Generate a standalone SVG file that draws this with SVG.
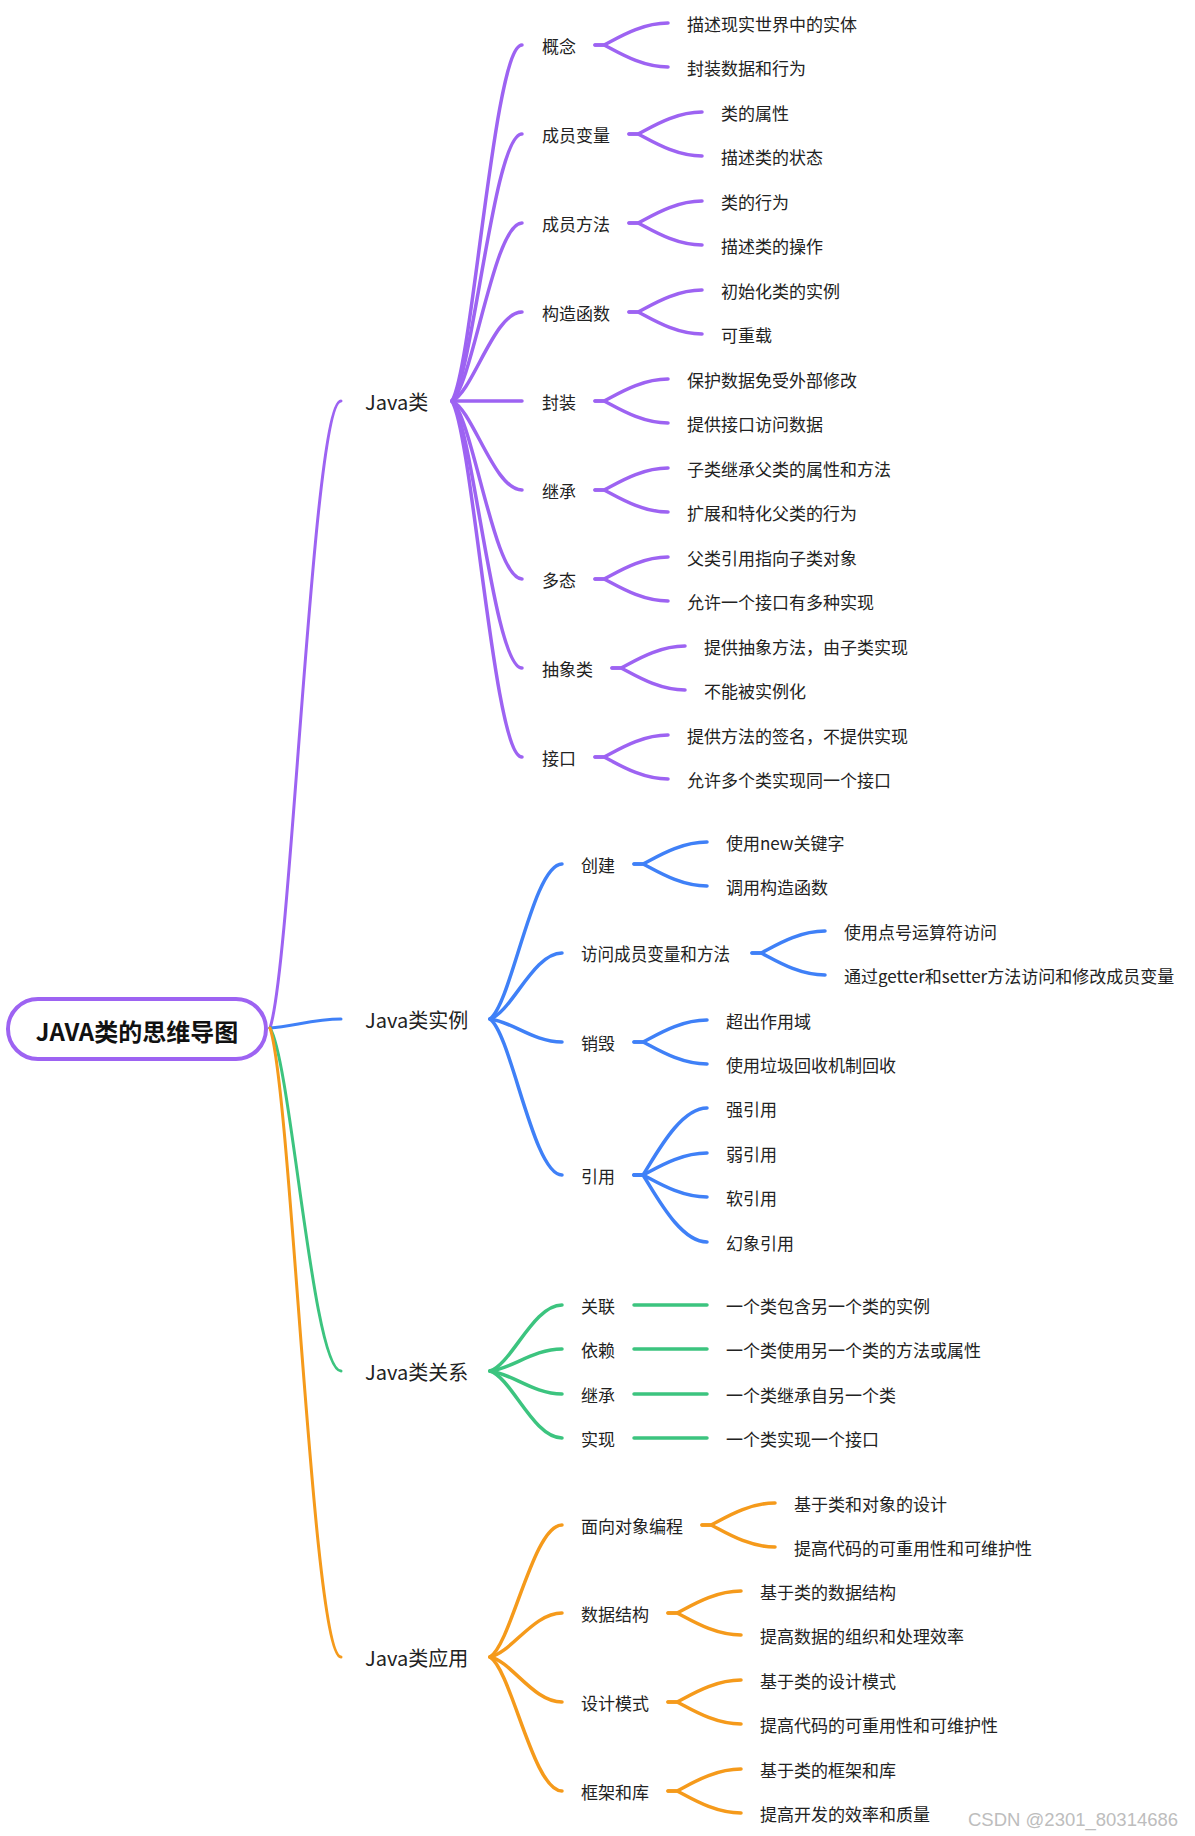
<svg xmlns="http://www.w3.org/2000/svg" width="1195" height="1836" viewBox="0 0 1195 1836">
<style>
text{font-family:"Noto Sans CJK SC","Noto Sans",sans-serif;fill:#222;dominant-baseline:central}
.t1{font-size:20px}
.t2{font-size:17px}
.t3{font-size:17px}
.root{font-size:24px;font-weight:bold;fill:#111;text-anchor:middle}
.c{fill:none;stroke-width:3.5;stroke-linecap:round;stroke-linejoin:round}
.r{stroke-width:3}
.p{stroke:#9D63F2}
.b{stroke:#3F80F7}
.g{stroke:#3CC47F}
.o{stroke:#F59A1B}
.wm{font-family:"Liberation Sans",Arial,sans-serif;font-size:18.5px;fill:#bdbdbd}
</style>
<rect width="1195" height="1836" fill="#fff"/>
<g id="connectors">
<g id="root-links">
<path class="c r p" d="M270,1028 C291.3,965.3 312.6,401 341,401"/>
<path class="c r b" d="M270,1028 C291.3,1027.1 312.6,1019 341,1019"/>
<path class="c r g" d="M270,1028 C291.3,1062.3 312.6,1371 341,1371"/>
<path class="c r o" d="M270,1028 C291.3,1090.9 312.6,1657 341,1657"/>
</g>
<g id="purple-links">
<path class="c p" d="M452,401 C473,365.4 494,45 522,45"/>
<path class="c p" d="M452,401 C473,374.3 494,134 522,134"/>
<path class="c p" d="M452,401 C473,383.2 494,223 522,223"/>
<path class="c p" d="M452,401 C473,392.1 494,312 522,312"/>
<path class="c p" d="M452,401 L522,401"/>
<path class="c p" d="M452,401 C473,409.9 494,490 522,490"/>
<path class="c p" d="M452,401 C473,418.8 494,579 522,579"/>
<path class="c p" d="M452,401 C473,427.7 494,668 522,668"/>
<path class="c p" d="M452,401 C473,436.6 494,757 522,757"/>
<path class="c p" d="M595,45 L604,45 C617,38.4 641,23 668,23"/>
<path class="c p" d="M595,45 L604,45 C617,51.6 641,67 668,67"/>
<path class="c p" d="M629,134 L638,134 C651,127.4 675,112 702,112"/>
<path class="c p" d="M629,134 L638,134 C651,140.6 675,156 702,156"/>
<path class="c p" d="M629,223 L638,223 C651,216.4 675,201 702,201"/>
<path class="c p" d="M629,223 L638,223 C651,229.6 675,245 702,245"/>
<path class="c p" d="M629,312 L638,312 C651,305.4 675,290 702,290"/>
<path class="c p" d="M629,312 L638,312 C651,318.6 675,334 702,334"/>
<path class="c p" d="M595,401 L604,401 C617,394.4 641,379 668,379"/>
<path class="c p" d="M595,401 L604,401 C617,407.6 641,423 668,423"/>
<path class="c p" d="M595,490 L604,490 C617,483.4 641,468 668,468"/>
<path class="c p" d="M595,490 L604,490 C617,496.6 641,512 668,512"/>
<path class="c p" d="M595,579 L604,579 C617,572.4 641,557 668,557"/>
<path class="c p" d="M595,579 L604,579 C617,585.6 641,601 668,601"/>
<path class="c p" d="M612,668 L621,668 C634,661.4 658,646 685,646"/>
<path class="c p" d="M612,668 L621,668 C634,674.6 658,690 685,690"/>
<path class="c p" d="M595,757 L604,757 C617,750.4 641,735 668,735"/>
<path class="c p" d="M595,757 L604,757 C617,763.6 641,779 668,779"/>
</g>
<g id="blue-links">
<path class="c b" d="M490,1019 C511.6,1003.5 533.2,864 562,864"/>
<path class="c b" d="M490,1019 C511.6,1012.4 533.2,953 562,953"/>
<path class="c b" d="M490,1019 C511.6,1021.3 533.2,1042 562,1042"/>
<path class="c b" d="M490,1019 C511.6,1034.6 533.2,1175 562,1175"/>
<path class="c b" d="M634,864 L643,864 C656,857.4 680,842 707,842"/>
<path class="c b" d="M634,864 L643,864 C656,870.6 680,886 707,886"/>
<path class="c b" d="M752,953 L761,953 C774,946.4 798,931 825,931"/>
<path class="c b" d="M752,953 L761,953 C774,959.6 798,975 825,975"/>
<path class="c b" d="M634,1042 L643,1042 C656,1035.4 680,1020 707,1020"/>
<path class="c b" d="M634,1042 L643,1042 C656,1048.6 680,1064 707,1064"/>
<path class="c b" d="M634,1175 L643,1175 C656,1154.9 680,1108 707,1108"/>
<path class="c b" d="M634,1175 L643,1175 C656,1168.4 680,1153 707,1153"/>
<path class="c b" d="M634,1175 L643,1175 C656,1181.6 680,1197 707,1197"/>
<path class="c b" d="M634,1175 L643,1175 C656,1195.1 680,1242 707,1242"/>
</g>
<g id="green-links">
<path class="c g" d="M490,1371 C511.6,1364.4 533.2,1305 562,1305"/>
<path class="c g" d="M490,1371 C511.6,1368.8 533.2,1349 562,1349"/>
<path class="c g" d="M490,1371 C511.6,1373.3 533.2,1394 562,1394"/>
<path class="c g" d="M490,1371 C511.6,1377.7 533.2,1438 562,1438"/>
<path class="c g" d="M634,1305 L707,1305"/>
<path class="c g" d="M634,1349 L707,1349"/>
<path class="c g" d="M634,1394 L707,1394"/>
<path class="c g" d="M634,1438 L707,1438"/>
</g>
<g id="orange-links">
<path class="c o" d="M490,1657 C511.6,1643.8 533.2,1525 562,1525"/>
<path class="c o" d="M490,1657 C511.6,1652.6 533.2,1613 562,1613"/>
<path class="c o" d="M490,1657 C511.6,1661.5 533.2,1702 562,1702"/>
<path class="c o" d="M490,1657 C511.6,1670.4 533.2,1791 562,1791"/>
<path class="c o" d="M702,1525 L711,1525 C724,1518.4 748,1503 775,1503"/>
<path class="c o" d="M702,1525 L711,1525 C724,1531.6 748,1547 775,1547"/>
<path class="c o" d="M668,1613 L677,1613 C690,1606.4 714,1591 741,1591"/>
<path class="c o" d="M668,1613 L677,1613 C690,1619.6 714,1635 741,1635"/>
<path class="c o" d="M668,1702 L677,1702 C690,1695.4 714,1680 741,1680"/>
<path class="c o" d="M668,1702 L677,1702 C690,1708.6 714,1724 741,1724"/>
<path class="c o" d="M668,1791 L677,1791 C690,1784.4 714,1769 741,1769"/>
<path class="c o" d="M668,1791 L677,1791 C690,1797.6 714,1813 741,1813"/>
</g>
</g>

<g id="root">
<rect x="8" y="999" width="258" height="60" rx="30" fill="#fff" stroke="#9D63F2" stroke-width="4"/>
<text class="root" x="137" y="1030">JAVA类的思维导图</text>
</g>

<g id="java-class"><text class="t1" x="365" y="401">Java类</text></g>
<g id="n-gainian"><text class="t2" x="542" y="45">概念</text></g>
<g id="n-gainian-1"><text class="t3" x="687" y="23">描述现实世界中的实体</text></g>
<g id="n-gainian-2"><text class="t3" x="687" y="67">封装数据和行为</text></g>
<g id="n-bianliang"><text class="t2" x="542" y="134">成员变量</text></g>
<g id="n-bianliang-1"><text class="t3" x="721" y="112">类的属性</text></g>
<g id="n-bianliang-2"><text class="t3" x="721" y="156">描述类的状态</text></g>
<g id="n-fangfa"><text class="t2" x="542" y="223">成员方法</text></g>
<g id="n-fangfa-1"><text class="t3" x="721" y="201">类的行为</text></g>
<g id="n-fangfa-2"><text class="t3" x="721" y="245">描述类的操作</text></g>
<g id="n-gouzao"><text class="t2" x="542" y="312">构造函数</text></g>
<g id="n-gouzao-1"><text class="t3" x="721" y="290">初始化类的实例</text></g>
<g id="n-gouzao-2"><text class="t3" x="721" y="334">可重载</text></g>
<g id="n-fengzhuang"><text class="t2" x="542" y="401">封装</text></g>
<g id="n-fengzhuang-1"><text class="t3" x="687" y="379">保护数据免受外部修改</text></g>
<g id="n-fengzhuang-2"><text class="t3" x="687" y="423">提供接口访问数据</text></g>
<g id="n-jicheng"><text class="t2" x="542" y="490">继承</text></g>
<g id="n-jicheng-1"><text class="t3" x="687" y="468">子类继承父类的属性和方法</text></g>
<g id="n-jicheng-2"><text class="t3" x="687" y="512">扩展和特化父类的行为</text></g>
<g id="n-duotai"><text class="t2" x="542" y="579">多态</text></g>
<g id="n-duotai-1"><text class="t3" x="687" y="557">父类引用指向子类对象</text></g>
<g id="n-duotai-2"><text class="t3" x="687" y="601">允许一个接口有多种实现</text></g>
<g id="n-chouxiang"><text class="t2" x="542" y="668">抽象类</text></g>
<g id="n-chouxiang-1"><text class="t3" x="704" y="646">提供抽象方法，由子类实现</text></g>
<g id="n-chouxiang-2"><text class="t3" x="704" y="690">不能被实例化</text></g>
<g id="n-jiekou"><text class="t2" x="542" y="757">接口</text></g>
<g id="n-jiekou-1"><text class="t3" x="687" y="735">提供方法的签名，不提供实现</text></g>
<g id="n-jiekou-2"><text class="t3" x="687" y="779">允许多个类实现同一个接口</text></g>

<g id="java-instance"><text class="t1" x="365" y="1019">Java类实例</text></g>
<g id="n-chuangjian"><text class="t2" x="581" y="864">创建</text></g>
<g id="n-chuangjian-1"><text class="t3" x="726" y="842">使用new关键字</text></g>
<g id="n-chuangjian-2"><text class="t3" x="726" y="886">调用构造函数</text></g>
<g id="n-fangwen"><text class="t2" x="581" y="953" style="font-size:18.5px" textLength="149" lengthAdjust="spacingAndGlyphs">访问成员变量和方法</text></g>
<g id="n-fangwen-1"><text class="t3" x="844" y="931">使用点号运算符访问</text></g>
<g id="n-fangwen-2"><text class="t3" x="844" y="975">通过getter和setter方法访问和修改成员变量</text></g>
<g id="n-xiaohui"><text class="t2" x="581" y="1042">销毁</text></g>
<g id="n-xiaohui-1"><text class="t3" x="726" y="1020">超出作用域</text></g>
<g id="n-xiaohui-2"><text class="t3" x="726" y="1064">使用垃圾回收机制回收</text></g>
<g id="n-yinyong"><text class="t2" x="581" y="1175">引用</text></g>
<g id="n-yinyong-1"><text class="t3" x="726" y="1108">强引用</text></g>
<g id="n-yinyong-2"><text class="t3" x="726" y="1153">弱引用</text></g>
<g id="n-yinyong-3"><text class="t3" x="726" y="1197">软引用</text></g>
<g id="n-yinyong-4"><text class="t3" x="726" y="1242">幻象引用</text></g>

<g id="java-relation"><text class="t1" x="365" y="1371">Java类关系</text></g>
<g id="n-guanlian"><text class="t2" x="581" y="1305">关联</text></g>
<g id="n-guanlian-1"><text class="t3" x="726" y="1305">一个类包含另一个类的实例</text></g>
<g id="n-yilai"><text class="t2" x="581" y="1349">依赖</text></g>
<g id="n-yilai-1"><text class="t3" x="726" y="1349">一个类使用另一个类的方法或属性</text></g>
<g id="n-jicheng2"><text class="t2" x="581" y="1394">继承</text></g>
<g id="n-jicheng2-1"><text class="t3" x="726" y="1394">一个类继承自另一个类</text></g>
<g id="n-shixian"><text class="t2" x="581" y="1438">实现</text></g>
<g id="n-shixian-1"><text class="t3" x="726" y="1438">一个类实现一个接口</text></g>

<g id="java-application"><text class="t1" x="365" y="1657">Java类应用</text></g>
<g id="n-oop"><text class="t2" x="581" y="1525">面向对象编程</text></g>
<g id="n-oop-1"><text class="t3" x="794" y="1503">基于类和对象的设计</text></g>
<g id="n-oop-2"><text class="t3" x="794" y="1547">提高代码的可重用性和可维护性</text></g>
<g id="n-ds"><text class="t2" x="581" y="1613">数据结构</text></g>
<g id="n-ds-1"><text class="t3" x="760" y="1591">基于类的数据结构</text></g>
<g id="n-ds-2"><text class="t3" x="760" y="1635">提高数据的组织和处理效率</text></g>
<g id="n-dp"><text class="t2" x="581" y="1702">设计模式</text></g>
<g id="n-dp-1"><text class="t3" x="760" y="1680">基于类的设计模式</text></g>
<g id="n-dp-2"><text class="t3" x="760" y="1724">提高代码的可重用性和可维护性</text></g>
<g id="n-fw"><text class="t2" x="581" y="1791">框架和库</text></g>
<g id="n-fw-1"><text class="t3" x="760" y="1769">基于类的框架和库</text></g>
<g id="n-fw-2"><text class="t3" x="760" y="1813">提高开发的效率和质量</text></g>

<text class="wm" x="968" y="1819">CSDN @2301_80314686</text>
</svg>
